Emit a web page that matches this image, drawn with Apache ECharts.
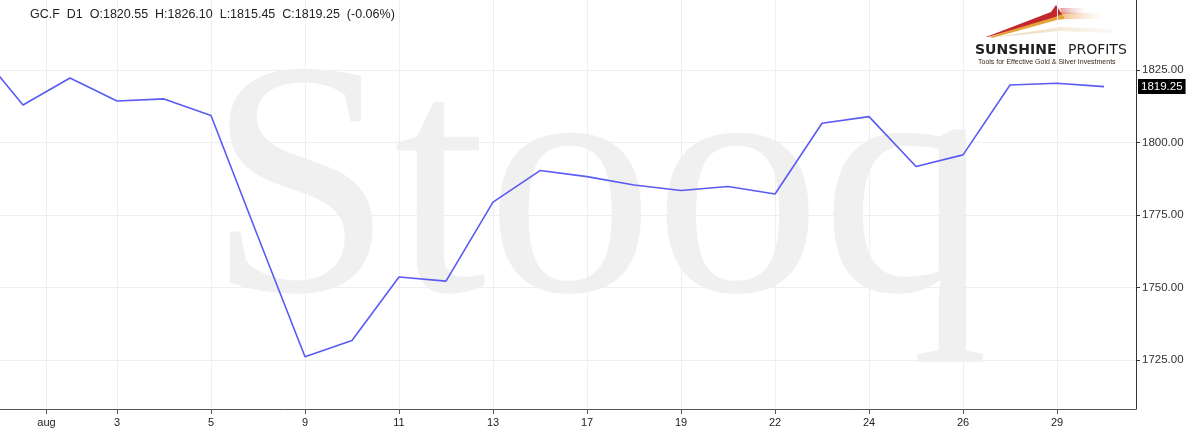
<!DOCTYPE html>
<html><head><meta charset="utf-8">
<script src="https://cdn.jsdelivr.net/npm/echarts@6/dist/echarts.min.js"></script>
<style>html,body{margin:0;padding:0;background:#fff}#c{width:1200px;height:441px}</style>
</head><body><div id="c"></div><script>
// ---- data ----
const dates = ['Jul 29','Jul 30','Aug 2','Aug 3','Aug 4','Aug 5','Aug 6','Aug 9','Aug 10','Aug 11','Aug 12','Aug 13','Aug 16','Aug 17','Aug 18','Aug 19','Aug 20','Aug 22','Aug 23','Aug 24','Aug 25','Aug 26','Aug 27','Aug 29','Aug 30'];
const closes = [1832.6, 1812.9, 1822.2, 1814.3, 1815.0, 1809.3, 1767.5, 1726.1, 1731.7, 1753.6, 1752.2, 1779.4, 1790.3, 1788.2, 1785.3, 1783.4, 1784.8, 1782.2, 1806.6, 1808.9, 1791.7, 1795.7, 1819.8, 1820.4, 1819.25];
const tickLabels = ['aug','3','5','9','11','13','17','19','22','24','26','29'];
const tickAt = [1.5, 3, 5, 7, 9, 11, 13, 15, 17, 19, 21, 23];
const priceTicks = [1725, 1750, 1775, 1800, 1825];
const lastClose = 1819.25;
const header = 'GC.F  D1  O:1820.55  H:1826.10  L:1815.45  C:1819.25  (-0.06%)';

const chart = echarts.init(document.getElementById('c'), null, {renderer: 'canvas'});
const seriesData = closes.map((v, i) => [i, v]);

chart.setOption({
  animation: false,
  backgroundColor: '#fff',
  title: {
    text: header, left: 30, top: 8, padding: 0,
    textStyle: {fontFamily: 'Liberation Sans', fontSize: 12.5, fontWeight: 'normal', color: '#222'}
  },
  grid: {left: 0, right: 64, top: 0, bottom: 32, containLabel: false},
  xAxis: {
    type: 'value', min: 0.511, max: 24.68,
    axisLine: {show: true, onZero: false, lineStyle: {color: '#555', width: 1}},
    axisTick: {show: true, length: 5, customValues: tickAt, lineStyle: {color: '#555'}},
    axisLabel: {
      customValues: tickAt, margin: 8,
      fontFamily: 'Liberation Sans', fontSize: 11, color: '#222',
      formatter: v => { const k = tickAt.indexOf(v); return k >= 0 ? tickLabels[k] : ''; }
    },
    splitLine: {show: true, lineStyle: {color: '#efefef', width: 1}}
  },
  yAxis: {
    type: 'value', position: 'right', min: 1708.1, max: 1849.1, scale: true,
    axisLine: {show: true, lineStyle: {color: '#333', width: 1}},
    axisTick: {show: true, length: 4, customValues: priceTicks, lineStyle: {color: '#333'}},
    axisLabel: {
      customValues: priceTicks, margin: 6,
      fontFamily: 'Liberation Sans', fontSize: 11.5, color: '#333',
      formatter: v => v.toFixed(2)
    },
    splitLine: {show: true, lineStyle: {color: '#efefef', width: 1}}
  },
  graphic: [
    {type: 'text', z: -1, silent: true, x: 207, y: 370,
     style: {text: 'Stooq', font: '335px "Liberation Serif"', fill: '#f0f0f0', textVerticalAlign: 'bottom'}},
    {type: 'group', z: 100, children: [
      {type: 'rect', shape: {x: 972, y: 0, width: 162, height: 72}, style: {fill: '#fff'}},
      {type: 'polygon', shape: {points: [[997,37],[1060,27],[1112,29],[1114,33],[1060,31]]},
       style: {fill: new echarts.graphic.LinearGradient(0,0,1,0,[{offset:0,color:'#e6d3a8'},{offset:1,color:'rgba(240,225,200,0.2)'}])}},
      {type: 'polygon', shape: {points: [[990,37],[1053,15],[1062,12],[1065,19],[1057,20],[992,38]]},
       style: {fill: '#e5a33a'}},
      {type: 'polygon', shape: {points: [[1062,12],[1100,14],[1100,19],[1065,19]]},
       style: {fill: new echarts.graphic.LinearGradient(0,0,1,0,[{offset:0,color:'rgba(235,180,110,0.8)'},{offset:1,color:'rgba(245,220,190,0.1)'}])}},
      {type: 'polygon', shape: {points: [[986,37],[1051,12],[1056,5],[1062,14],[1055,17],[988,37]]},
       style: {fill: '#c1272d'}},
      {type: 'polygon', shape: {points: [[1060,8],[1084,8],[1084,14],[1062,14]]},
       style: {fill: new echarts.graphic.LinearGradient(0,0,1,0,[{offset:0,color:'rgba(220,110,110,0.7)'},{offset:1,color:'rgba(240,200,200,0.1)'}])}},
      {type: 'text', x: 975, y: 57, style: {text: 'SUNSHINE', font: 'bold 14px "DejaVu Sans"', fill: '#231f20', textVerticalAlign: 'bottom'}},
      {type: 'text', x: 1068, y: 57, style: {text: 'PROFITS', font: '14px "DejaVu Sans"', fill: '#231f20', textVerticalAlign: 'bottom'}},
      {type: 'text', x: 978, y: 62, style: {text: 'Tools for Effective Gold & Silver Investments', font: '7px "Liberation Sans"', fill: '#3a2a20', textVerticalAlign: 'middle'}}
    ]}
  ],
  series: [{
    type: 'line', data: seriesData, symbol: 'none', clip: true,
    lineStyle: {color: '#5a5af5', width: 1.6},
    z: 3,
    markLine: {
      silent: true, symbol: 'none', animation: false,
      data: [{yAxis: lastClose}],
      lineStyle: {color: 'transparent', width: 0},
      label: {
        position: 'end', distance: 2, formatter: lastClose.toFixed(2),
        backgroundColor: '#000', color: '#fff', padding: [2, 3, 1, 3],
        fontFamily: 'Liberation Sans', fontSize: 11.5
      }
    }
  }]
});
</script></body></html>
